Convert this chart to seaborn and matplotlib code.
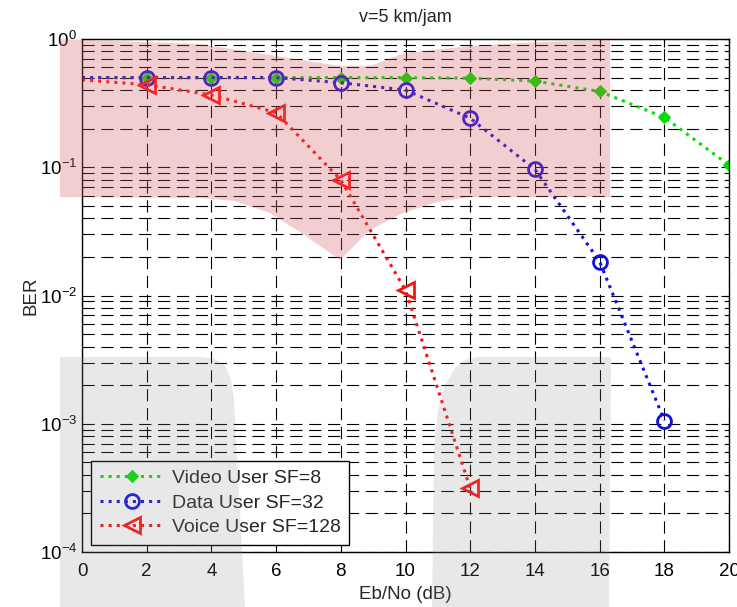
import numpy as np
import pandas as pd
import matplotlib
matplotlib.use("Agg")
import matplotlib.pyplot as plt
from matplotlib.patches import Polygon
from matplotlib.transforms import Affine2D
from matplotlib.ticker import LogLocator, NullFormatter, MultipleLocator
import seaborn as sns

# ---- data ----
ebno = [0, 2, 4, 6, 8, 10, 12, 14, 16, 18, 20]
video_ber = [0.50, 0.50, 0.50, 0.50, 0.50, 0.50, 0.495, 0.47, 0.39, 0.245, 0.104]
data_x = [0, 2, 4, 6, 8, 10, 12, 14, 16, 18]
data_ber = [0.50, 0.50, 0.50, 0.50, 0.456, 0.40, 0.241, 0.0964, 0.0184, 0.00106]
voice_x = [0, 2, 4, 6, 8, 10, 12]
voice_ber = [0.48, 0.44, 0.366, 0.267, 0.0796, 0.011, 0.000314]
labels = ["Video User SF=8", "Data User SF=32", "Voice User SF=128"]
title = "v=5 km/jam"
xlabel = "Eb/No (dB)"
ylabel = "BER"

sns.set_style("white")
plt.rcParams["font.family"] = ["Liberation Sans", "DejaVu Sans"]
plt.rcParams["mathtext.fontset"] = "custom"
plt.rcParams["mathtext.rm"] = "Liberation Sans"
plt.rcParams["mathtext.it"] = "Liberation Sans"

fig = plt.figure(figsize=(7.37, 6.07), dpi=100)
fig.patch.set_facecolor("white")
ax = fig.add_axes([82 / 737, 55 / 607, 647 / 737, 513 / 607])
ax.set_facecolor("white")

df_video = pd.DataFrame({"x": ebno, "y": video_ber})
df_data = pd.DataFrame({"x": data_x, "y": data_ber})
df_voice = pd.DataFrame({"x": voice_x, "y": voice_ber})

sns.lineplot(data=df_video, x="x", y="y", ax=ax, color="#00e000", linestyle=":",
             linewidth=2.2, marker="D", markersize=6, markerfacecolor="#00e000",
             markeredgecolor="#00e000", markevery=slice(1, None), label=labels[0])
sns.lineplot(data=df_data, x="x", y="y", ax=ax, color="#1010e0", linestyle=":",
             linewidth=2.2, marker="o", markersize=10, markerfacecolor="none",
             markeredgecolor="#1010e0", markeredgewidth=2, markevery=slice(1, None),
             label=labels[1])
sns.lineplot(data=df_voice, x="x", y="y", ax=ax, color="#ff1010", linestyle=":",
             linewidth=2.2, marker="<", markersize=11, markerfacecolor="none",
             markeredgecolor="#ff1010", markeredgewidth=2, markevery=slice(1, None),
             label=labels[2])

ax.set_yscale("log")
ax.set_xlim(0, 20)
ax.set_ylim(1e-4, 1)
ax.xaxis.set_major_locator(MultipleLocator(2))
ax.yaxis.set_major_locator(LogLocator(base=10, numticks=10))
ax.yaxis.set_minor_locator(LogLocator(base=10, subs=np.arange(2, 10), numticks=20))
ax.yaxis.set_minor_formatter(NullFormatter())

gls = (0, (11, 6))
ax.grid(True, which="major", axis="both", color="black", linestyle=gls, linewidth=0.8)
ax.grid(True, which="minor", axis="y", color="black", linestyle=gls, linewidth=0.8)
for s in ax.spines.values():
    s.set_color("black")
    s.set_linewidth(1.0)
ax.tick_params(which="both", direction="in", top=True, right=True, colors="black",
               labelsize=13.5)
ax.tick_params(which="major", length=6)
ax.tick_params(which="minor", length=3)
ax.tick_params(axis="x", pad=8)

ax.set_title(title, fontsize=13, pad=12)
ax.set_xlabel(xlabel, fontsize=13.5, labelpad=4)
ax.set_ylabel(ylabel, fontsize=13.5, labelpad=0)

leg = ax.legend(loc="lower left", bbox_to_anchor=(0.014, 0.014), borderaxespad=0,
                fontsize=14, frameon=True, fancybox=False, edgecolor="black",
                facecolor="white", framealpha=1, handlelength=3.3, numpoints=1,
                labelspacing=0.35, borderpad=0.45, handletextpad=0.4)
leg.get_frame().set_linewidth(1.0)
for h in leg.get_lines():
    h.set_markevery([1])

# ---- watermark overlay (decoration) ----
pix = Affine2D().scale(1 / 737, -1 / 607).translate(0, 1) + fig.transFigure
pink = [(60, 39), (200, 44), (270, 55), (340, 66), (370, 66), (405, 53), (470, 46),
        (540, 42), (610, 40), (610, 197), (470, 197), (437, 202), (403, 213),
        (370, 230), (340, 260), (300, 232), (270, 213), (235, 201), (200, 198), (60, 197)]
gray_l = [(60, 357), (200, 357), (215, 359), (225, 366), (231, 380), (234, 400),
          (245, 607), (60, 607)]
gray_r = [(432, 607), (434, 450), (438, 410), (445, 385), (455, 368), (465, 360),
          (477, 357), (611, 357), (609, 607)]
fig.patches.append(Polygon(pink, closed=True, transform=pix, facecolor=(0.83, 0.37, 0.40),
                           alpha=0.3, edgecolor="none", zorder=10))
for g in (gray_l, gray_r):
    fig.patches.append(Polygon(g, closed=True, transform=pix, facecolor=(0.55, 0.55, 0.55),
                               alpha=0.2, edgecolor="none", zorder=10))

fig.savefig("out.png", dpi=100)
